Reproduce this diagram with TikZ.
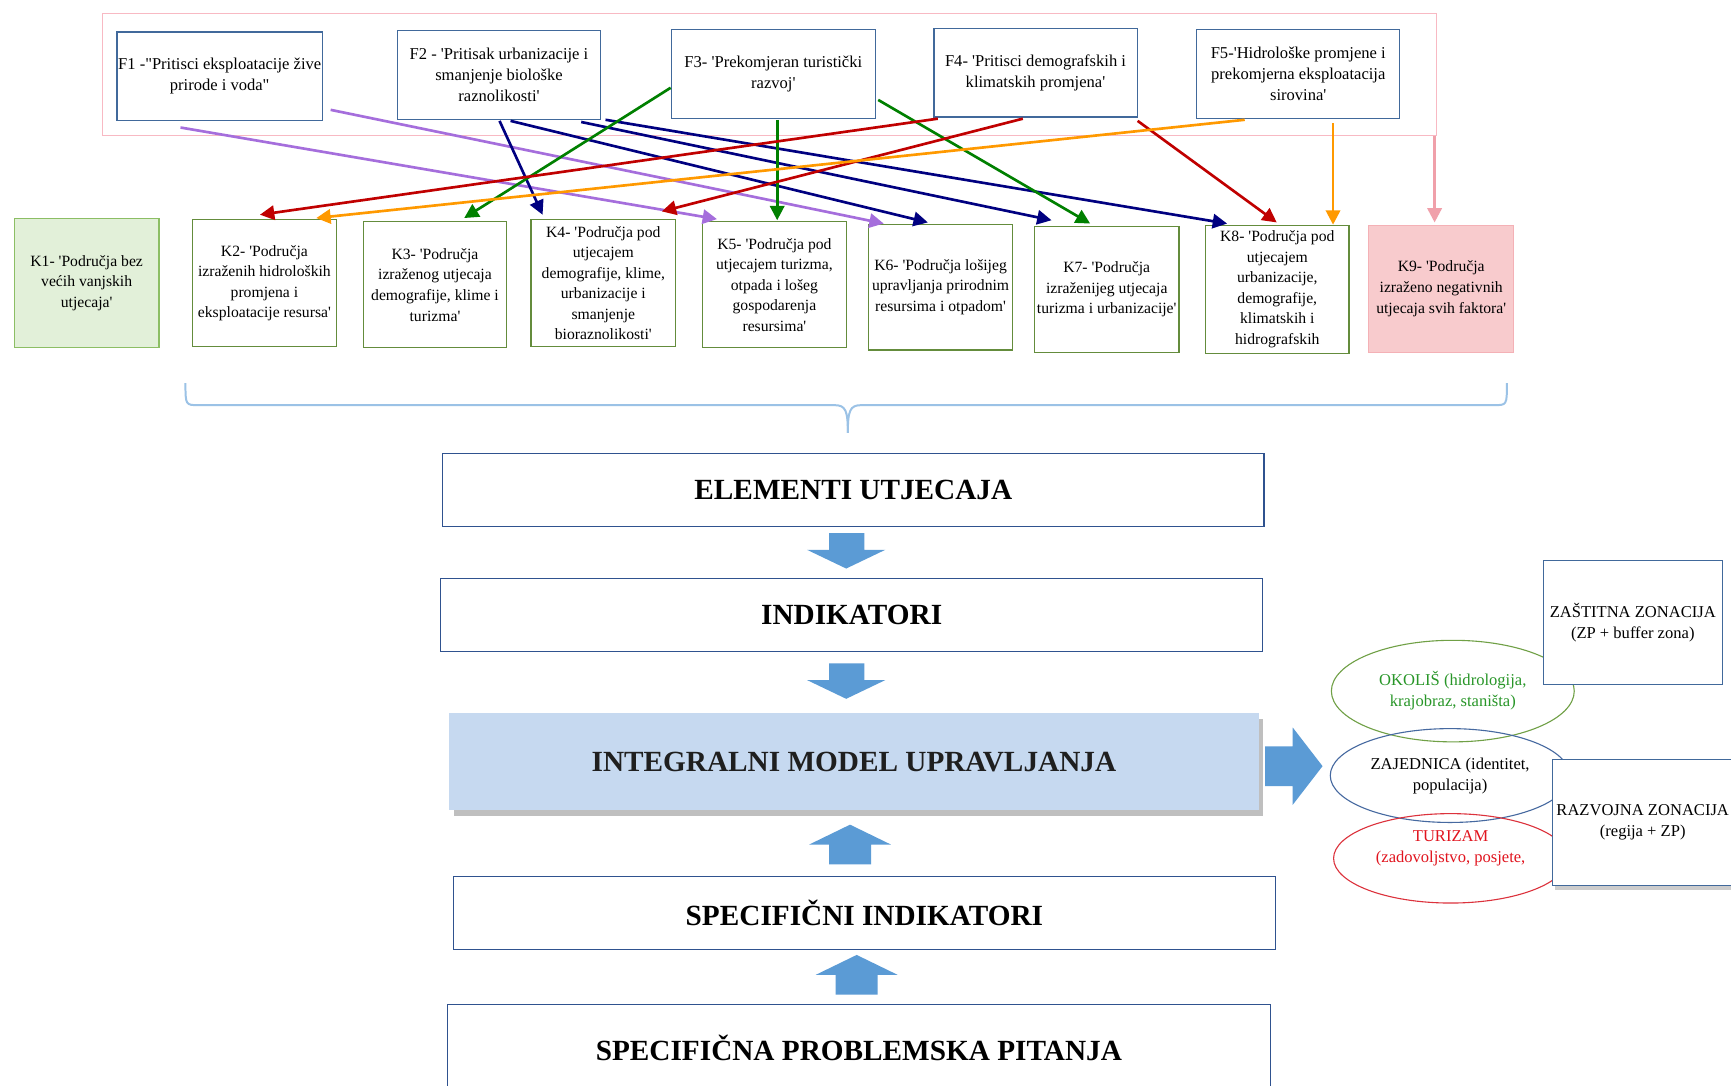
\documentclass[tikz,border=0pt]{standalone}
\usepackage{fontspec}
\defaultfontfeatures[\rmfamily]{Ligatures=Common}
\setmainfont{Liberation Serif}
\usetikzlibrary{arrows.meta,shadows,calc,shapes.geometric}
\definecolor{fborder}{RGB}{65,105,155}
\definecolor{kborder}{RGB}{100,140,60}
\definecolor{konefill}{RGB}{226,240,217}
\definecolor{koneborder}{RGB}{140,190,100}
\definecolor{knineborder}{RGB}{244,177,182}
\definecolor{kninefill}{RGB}{248,203,205}
\definecolor{frameborder}{RGB}{248,185,195}
\definecolor{mainborder}{RGB}{47,82,143}
\definecolor{integfill}{RGB}{198,217,240}
\definecolor{arrowblue}{RGB}{91,155,213}
\definecolor{bracecol}{RGB}{155,194,230}
\definecolor{cnavy}{RGB}{0,0,128}
\definecolor{cred}{RGB}{192,0,0}
\definecolor{corange}{RGB}{255,153,0}
\definecolor{cgreen}{RGB}{0,128,0}
\definecolor{cpurple}{RGB}{165,110,220}
\definecolor{cpink}{RGB}{240,160,170}
\definecolor{ellgreen}{RGB}{112,160,70}
\definecolor{ellblue}{RGB}{70,105,160}
\definecolor{ellred}{RGB}{220,50,60}
\definecolor{txtgreen}{RGB}{40,150,40}
\definecolor{txtred}{RGB}{225,20,30}
\begin{document}
\begin{tikzpicture}[x=1pt,y=-1pt,
  fbox/.style={draw=fborder, line width=1pt, fill=white, align=center, inner sep=1pt,
    font=\fontsize{15}{18.8}\selectfont, minimum width=184pt, minimum height=80pt},
  kbox/.style={draw=kborder, line width=1pt, fill=white, align=center, inner sep=0pt,
    font=\fontsize{14.2}{18.6}\selectfont, minimum width=131pt, minimum height=115pt},
  mainbox/.style={draw=mainborder, line width=1pt, fill=white,
    font=\bfseries\fontsize{26.5}{30}\selectfont, minimum width=745pt, minimum height=66pt},
  conn/.style={line width=2.4pt, -{Triangle[length=13pt,width=13pt]}},
  blockarrow/.style={fill=arrowblue, draw=none},
  zonebox/.style={draw=fborder, line width=1pt, fill=white, align=center, inner sep=0pt,
    font=\fontsize{15}{19}\selectfont},
  elltext/.style={align=center, font=\fontsize{15}{19}\selectfont},
  bracestyle/.style={draw=bracecol, line width=1.8pt}
]
\useasboundingbox (0,0) rectangle (1568,983);
\fill[white] (0,0) rectangle (1568,983);

% frame around factors
\node[draw=frameborder, line width=1pt, minimum width=1208pt, minimum height=111pt, inner sep=0pt] (frame) at (697,67.5) {};

% factor boxes
\node[fbox] (F1) at (199,69) {F1 -"Pritisci eksploatacije žive\\prirode i voda"};
\node[fbox] (F2) at (452,68) {F2 - 'Pritisak urbanizacije i\\smanjenje biološke\\raznolikosti'};
\node[fbox, minimum width=185pt] (F3) at (700.5,67) {F3- 'Prekomjeran turistički\\razvoj'};
\node[fbox] (F4) at (938,66) {F4- 'Pritisci demografskih i\\klimatskih promjena'};
\node[fbox] (F5) at (1176,67) {F5-'Hidrološke promjene i\\prekomjerna eksploatacija\\sirovina'};

% category boxes
\node[kbox, draw=koneborder, fill=konefill, minimum height=117pt] (K1) at (78.5,256.5) {K1- 'Područja bez\\većih vanjskih\\utjecaja'};
\node[kbox] (K2) at (239.5,256.5) {K2- 'Područja\\izraženih hidroloških\\promjena i\\eksploatacije resursa'};
\node[kbox, minimum width=130pt, minimum height=114pt] (K3) at (394,258) {K3- 'Područja\\izraženog utjecaja\\demografije, klime i\\turizma'};
\node[kbox] (K4) at (546.5,256.5) {K4- 'Područja pod\\utjecajem\\demografije, klime,\\urbanizacije i\\smanjenje\\bioraznolikosti'};
\node[kbox, minimum height=114pt] (K5) at (701.5,258) {K5- 'Područja pod\\utjecajem turizma,\\otpada i lošeg\\gospodarenja\\resursima'};
\node[kbox, minimum width=130pt, minimum height=114pt] (K6) at (852,260) {K6- 'Područja lošijeg\\upravljanja prirodnim\\resursima i otpadom'};
\node[kbox, minimum height=114pt] (K7) at (1002.5,262) {K7- 'Područja\\izraženijeg utjecaja\\turizma i urbanizacije'};
\node[kbox, minimum width=130pt, minimum height=116pt] (K8) at (1157,262) {K8- 'Područja pod\\utjecajem\\urbanizacije,\\demografije,\\klimatskih i\\hidrografskih};
\node[kbox, draw=knineborder, fill=kninefill] (K9) at (1305.5,261.5) {K9- 'Područja\\izraženo negativnih\\utjecaja svih faktora'};

% connectors
\draw[conn, cpurple] ($(F1.south west)+(58,6)$) -- ($(K5.north west)+(14,-2)$);
\draw[conn, cpurple] ($(F1.south east)+(7,-10)$) -- ($(K6.north west)+(14,0)$);
\draw[conn, cnavy] ($(F2.south west)+(93,1)$) -- ($(K4.north west)+(11,-4)$);
\draw[conn, cnavy] ($(F2.south west)+(103,1)$) -- ($(K6.north west)+(54,-1)$);
\draw[conn, cnavy] ($(F2.south west)+(167,2)$) -- ($(K7.north west)+(16,-5)$);
\draw[conn, cnavy] ($(F2.south west)+(189,0)$) -- ($(K8.north west)+(20,-1)$);
\draw[conn, cgreen] ($(F3.south west)+(0,-28)$) -- ($(K3.north west)+(92,-3)$);
\draw[conn, cgreen] ($(F3.south)+(3.5,1)$) -- ($(K5.north)+(2.5,-1)$);
\draw[conn, cgreen] ($(F3.south east)+(2,-17)$) -- ($(K7.north west)+(51,-2)$);
\draw[conn, cred] ($(F4.south west)+(4,1)$) -- ($(K2.north west)+(62,-4)$);
\draw[conn, cred] ($(F4.south west)+(81,1)$) -- ($(K4.north west)+(119,-7)$);
\draw[conn, cred] ($(F4.south east)+(0,3)$) -- ($(K8.north west)+(65,-2)$);
\draw[conn, corange] ($(F5.south west)+(44,1)$) -- ($(K2.north west)+(113,-1)$);
\draw[conn, corange] ($(F5.south west)+(124,4)$) -- ($(K8.north west)+(116,0)$);
\draw[conn, cpink] ($(frame.south east)+(-2,0)$) -- ($(K9.north)+(-6,-2)$);

% brace
\draw[bracestyle] (168,347) .. controls (168,367) and (168,367) .. (180,367) -- (756,367)
  .. controls (766,367) and (768,372) .. (768,392);
\draw[bracestyle] (768,392) .. controls (768,372) and (770,367) .. (780,367) -- (1353,367)
  .. controls (1365,367) and (1365,367) .. (1365,347);

% main column
\node[mainbox, minimum width=744pt] (elem) at (773,444) {ELEMENTI UTJECAJA};
\node[mainbox] (indik) at (771.5,557) {INDIKATORI};
\node[mainbox, draw=none, fill=integfill, minimum width=733pt, minimum height=88pt, text={black!88},
  drop shadow={shadow xshift=4pt, shadow yshift=-5pt, opacity=0.5}] (integ) at (773.5,690) {INTEGRALNI MODEL UPRAVLJANJA};
\node[mainbox, minimum width=744pt] (specind) at (783,827) {SPECIFIČNI INDIKATORI};
\node[mainbox, minimum width=746pt, minimum height=84pt] (specprob) at (778,952) {\raisebox{5pt}{SPECIFIČNA PROBLEMSKA PITANJA}};

% block arrows
\fill[blockarrow] (751,483) -- (783,483) -- (783,498) -- (802,498) -- (766.5,515) -- (731,498) -- (751,498) -- cycle;
\fill[blockarrow] (751,601) -- (783,601) -- (783,616) -- (802,616) -- (766.5,633) -- (731,616) -- (751,616) -- cycle;
\fill[blockarrow] (751,783) -- (789,783) -- (789,765) -- (807,765) -- (770,747) -- (733,765) -- (751,765) -- cycle;
\fill[blockarrow] (757,901) -- (795,901) -- (795,883) -- (813,883) -- (776,865) -- (739,883) -- (757,883) -- cycle;
\fill[blockarrow] (1146,676) -- (1171,676) -- (1171,659) -- (1198,694) -- (1171,729) -- (1171,712) -- (1146,712) -- cycle;

% ellipses
\node[ellipse, draw=ellgreen, line width=1pt, minimum width=220pt, minimum height=92pt, inner sep=0pt,
  elltext, text=txtgreen] (okolis) at (1316,626) {OKOLIŠ (hidrologija,\\krajobraz, staništa)};
\node[ellipse, draw=ellblue, line width=1pt, minimum width=217pt, minimum height=85pt, inner sep=0pt,
  elltext] (zajed) at (1313.5,702.5) {ZAJEDNICA (identitet,\\populacija)};
\node[ellipse, draw=ellred, line width=1pt, minimum width=212pt, minimum height=81pt, inner sep=0pt] (turiz) at (1314,777.5) {};
\node[elltext, text=txtred] (turiztext) at ($(turiz)+(0,-9)$) {TURIZAM\\(zadovoljstvo, posjete,};

% zoning boxes
\node[zonebox, minimum width=162pt, minimum height=112pt] (zastit) at (1479,564) {ZAŠTITNA ZONACIJA\\(ZP + buffer zona)};
\node[zonebox, minimum width=164pt, minimum height=114pt,
  drop shadow={shadow xshift=3pt, shadow yshift=-4pt, opacity=0.4}] (razvoj) at (1488,745) {RAZVOJNA ZONACIJA\\(regija + ZP)};
\end{tikzpicture}
\end{document}
